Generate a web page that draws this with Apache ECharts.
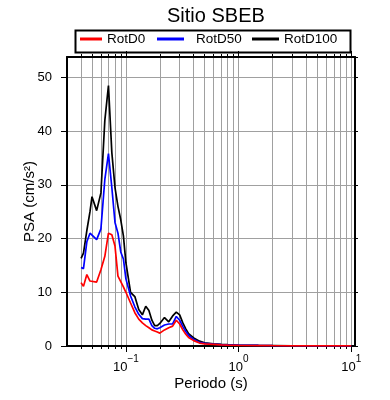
<!DOCTYPE html>
<html>
<head>
<meta charset="utf-8">
<script src="https://cdn.jsdelivr.net/npm/echarts@6/dist/echarts.min.js"></script>
<style>html,body{margin:0;padding:0;background:#fff}#c{width:390px;height:400px}</style>
</head>
<body>
<div id="c"></div>
<script>
var periods = [0.04, 0.042, 0.045, 0.048, 0.05, 0.055, 0.06, 0.065, 0.07, 0.075, 0.08, 0.085, 0.09, 0.095, 0.1, 0.11, 0.12, 0.13, 0.14, 0.15, 0.16, 0.17, 0.18, 0.19, 0.2, 0.22, 0.24, 0.26, 0.28, 0.3, 0.32, 0.34, 0.36, 0.4, 0.45, 0.5, 0.6, 0.7, 0.8, 1.0, 1.5, 2, 3, 4, 5, 7.5, 10];
var rotD0 = [11.8, 11.1, 13.3, 12.1, 12.0, 11.9, 14.2, 16.7, 21.0, 20.7, 18.6, 13.0, 12.0, 11.0, 10.0, 8.0, 6.2, 5.0, 4.3, 3.8, 3.4, 3.0, 2.8, 2.6, 2.4, 3.0, 3.4, 3.7, 4.8, 4.1, 3.0, 2.2, 1.6, 1.0, 0.55, 0.4, 0.3, 0.22, 0.18, 0.13, 0.08, 0.06, 0.04, 0.03, 0.02, 0.015, 0.01];
var rotD50 = [14.6, 14.4, 19.4, 21.0, 20.8, 19.8, 21.8, 31.0, 35.8, 29.5, 23.0, 21.0, 17.5, 16.2, 12.5, 9.3, 7.3, 5.9, 5.1, 5.0, 5.0, 3.8, 3.3, 3.2, 3.4, 3.9, 4.1, 4.1, 5.5, 4.8, 3.6, 2.7, 2.0, 1.2, 0.7, 0.5, 0.35, 0.25, 0.2, 0.15, 0.1, 0.07, 0.05, 0.035, 0.025, 0.02, 0.015];
var rotD100 = [16.3, 17.3, 21.5, 25.0, 27.8, 25.2, 28.5, 42.0, 48.5, 36.0, 29.5, 26.0, 23.5, 20.5, 15.5, 10.0, 9.2, 6.8, 5.8, 7.4, 6.6, 4.8, 3.8, 3.8, 4.2, 5.3, 4.5, 5.6, 6.3, 5.8, 4.3, 3.2, 2.3, 1.5, 0.9, 0.6, 0.4, 0.3, 0.25, 0.17, 0.1, 0.08, 0.05, 0.04, 0.03, 0.02, 0.02];
var seriesNames = ['RotD0', 'RotD50', 'RotD100'];
var xMajorTicks = [0.1, 1, 10];
var xMinorTicks = [0.04,0.05,0.06,0.07,0.08,0.09,0.1,0.2,0.3,0.4,0.5,0.6,0.7,0.8,0.9,1,2,3,4,5,6,7,8,9,10];
var xMajorExponents = ['\u22121', '0', '1'];

var FONT = 'Liberation Sans';
function pairs(v){ return periods.map(function(p,i){ return [p, v[i]]; }); }
var XMIN = 0.03, XMAX = 10.8;

function xAx(pos, major, showLabel, split){
  return {
    type: 'log', min: XMIN, max: XMAX, position: pos, gridIndex: 0,
    axisLine: { show: major, onZero: false, lineStyle: { color: '#000', width: 2 } },
    axisTick: { show: true, inside: false, customValues: major ? xMajorTicks : xMinorTicks, length: major ? 6 : 3, lineStyle: { color: '#000', width: 1 } },
    axisLabel: showLabel ? {
      show: true, customValues: xMajorTicks, margin: 8, color: '#000', fontFamily: FONT, fontSize: 13,
      formatter: function(v){
        var i = -1;
        for (var k=0;k<xMajorTicks.length;k++) if (Math.abs(xMajorTicks[k]-v)/xMajorTicks[k] < 1e-6) i = k;
        return i >= 0 ? '{b|10}{s|' + xMajorExponents[i] + '}' : '';
      },
      rich: {
        b: { fontSize: 13, fontFamily: FONT, color: '#000', lineHeight: 20, verticalAlign: 'bottom' },
        s: { fontSize: 10, fontFamily: FONT, color: '#000', lineHeight: 11, verticalAlign: 'top' }
      }
    } : { show: false },
    splitLine: { show: split, lineStyle: { color: '#a0a0a0', width: 1 } },
    name: showLabel ? 'Periodo (s)' : '', nameLocation: 'middle', nameGap: 30, nameMoveOverlap: false,
    nameTextStyle: { fontSize: 15, color: '#000', fontFamily: FONT }
  };
}

var chart = echarts.init(document.getElementById('c'), null, { renderer: 'canvas' });
chart.setOption({
  animation: false,
  backgroundColor: '#fff',
  title: { text: 'Sitio SBEB', left: 162, top: 1, textStyle: { fontSize: 20, fontWeight: 'normal', color: '#000', fontFamily: FONT } },
  graphic: [{ type: 'rect', left: 73, top: 28, shape: { width: 275, height: 22 }, style: { fill: 'none', stroke: '#000', lineWidth: 2 }, z: 10 }],
  legend: [
    { data: [seriesNames[0]], left: 80, top: 32, itemWidth: 22, itemHeight: 3, icon: 'rect', padding: 0, textStyle: { fontSize: 13.5, color: '#000', fontFamily: FONT } },
    { data: [seriesNames[1]], left: 157, top: 32, itemWidth: 27, itemHeight: 3, icon: 'rect', padding: 0, itemGap: 0, textStyle: { fontSize: 13.5, color: '#000', fontFamily: FONT, padding: [0,0,0,7] } },
    { data: [seriesNames[2]], left: 252, top: 32, itemWidth: 27, itemHeight: 3, icon: 'rect', padding: 0, textStyle: { fontSize: 13.5, color: '#000', fontFamily: FONT } }
  ],
  grid: { left: 67, top: 57, width: 288, height: 289, show: false },
  xAxis: [
    xAx('bottom', true, true, false),
    xAx('bottom', false, false, true),
    xAx('top', true, false, false),
    xAx('top', false, false, false)
  ],
  yAxis: [
    { type: 'value', min: 0, max: 53.8, interval: 10, position: 'left',
      axisLine: { show: true, lineStyle: { color: '#000', width: 2 } },
      axisTick: { show: true, length: 6, lineStyle: { color: '#000' } },
      axisLabel: { color: '#000', fontSize: 13, margin: 15, fontFamily: FONT, showMaxLabel: false },
      splitLine: { show: true, lineStyle: { color: '#a0a0a0', width: 1 } },
      name: 'PSA (cm/s\u00b2)', nameLocation: 'middle', nameGap: 30, nameMoveOverlap: false,
      nameTextStyle: { fontSize: 15, color: '#000', fontFamily: FONT } },
    { type: 'value', min: 0, max: 53.8, interval: 10, position: 'right',
      axisLine: { show: true, lineStyle: { color: '#000', width: 2 } },
      axisTick: { show: true, length: 3, lineStyle: { color: '#000' } },
      axisLabel: { show: false }, splitLine: { show: false } }
  ],
  series: [
    { name: seriesNames[0], type: 'line', data: pairs(rotD0), showSymbol: false, symbol: 'none', color: '#ff0000', lineStyle: { width: 1.7, color: '#ff0000' }, z: 5 },
    { name: seriesNames[1], type: 'line', data: pairs(rotD50), showSymbol: false, symbol: 'none', color: '#0000ff', lineStyle: { width: 1.7, color: '#0000ff' }, z: 4 },
    { name: seriesNames[2], type: 'line', data: pairs(rotD100), showSymbol: false, symbol: 'none', color: '#000000', lineStyle: { width: 1.7, color: '#000' }, z: 3 }
  ]
});
</script>
</body>
</html>
